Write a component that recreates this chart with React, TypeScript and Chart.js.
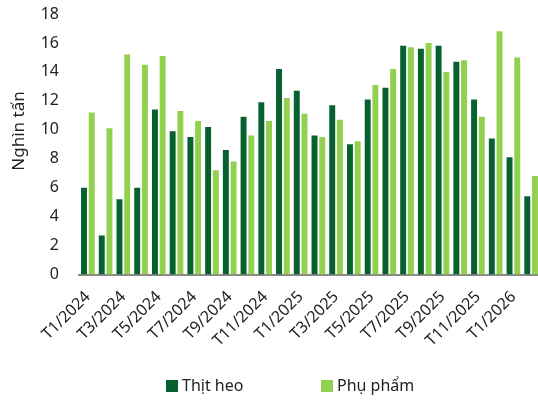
import React, { useEffect, useRef } from "react";
import { Chart, registerables } from "chart.js";

Chart.register(...registerables);

const months = [
  "T1/2024", "T2/2024", "T3/2024", "T4/2024", "T5/2024", "T6/2024", "T7/2024", "T8/2024",
  "T9/2024", "T10/2024", "T11/2024", "T12/2024", "T1/2025", "T2/2025", "T3/2025", "T4/2025",
  "T5/2025", "T6/2025", "T7/2025", "T8/2025", "T9/2025", "T10/2025", "T11/2025", "T12/2025",
  "T1/2026", "T2/2026",
];
const thitHeo = [
  6.0, 2.7, 5.2, 6.0, 11.4, 9.9, 9.5, 10.2, 8.6, 10.9, 11.9, 14.2, 12.7,
  9.6, 11.7, 9.0, 12.1, 12.9, 15.8, 15.6, 15.8, 14.7, 12.1, 9.4, 8.1, 5.4,
];
const phuPham = [
  11.2, 10.1, 15.2, 14.5, 15.1, 11.3, 10.6, 7.2, 7.8, 9.6, 10.6, 12.2, 11.1,
  9.5, 10.7, 9.2, 13.1, 14.2, 15.7, 16.0, 14.0, 14.8, 10.9, 16.8, 15.0, 6.8,
];
const yTicks = [0, 2, 4, 6, 8, 10, 12, 14, 16, 18];
const seriesNames = ["Thịt heo", "Phụ phẩm"];
const yTitle = "Nghìn tấn";
const colors = ["#07602F", "#92D050"];
const FONT = "'Noto Sans', sans-serif";

export default function App() {
  const ref = useRef<HTMLCanvasElement | null>(null);
  useEffect(() => {
    if (!ref.current) return;
    const extrasPlugin = {
      id: "extras",
      afterDraw(chart: any) {
        const ctx = chart.ctx;
        ctx.save();
        // legend
        ctx.font = `16px ${FONT}`;
        ctx.textBaseline = "middle";
        const items = [
          { x: 166, name: seriesNames[0], color: colors[0] },
          { x: 321, name: seriesNames[1], color: colors[1] },
        ];
        const y = 386;
        items.forEach((it) => {
          ctx.fillStyle = it.color;
          ctx.fillRect(it.x, y - 6, 12, 12);
          ctx.fillStyle = "#222";
          ctx.fillText(it.name, it.x + 16, y);
        });
        // y axis title
        ctx.translate(19, 131);
        ctx.rotate(-Math.PI / 2);
        ctx.font = `17px ${FONT}`;
        ctx.textAlign = "center";
        ctx.textBaseline = "middle";
        ctx.fillStyle = "#222";
        ctx.fillText(yTitle, 0, 0);
        ctx.restore();
      },
    };
    const zeroPad = (s: any) => {
      s.paddingTop = 0;
      s.paddingBottom = 0;
      s.paddingLeft = 0;
      s.paddingRight = 0;
    };
    const chart = new Chart(ref.current, {
      type: "bar",
      data: {
        labels: months,
        datasets: [
          {
            label: seriesNames[0],
            data: thitHeo,
            backgroundColor: colors[0],
            categoryPercentage: 0.87,
            barPercentage: 0.77,
          },
          {
            label: seriesNames[1],
            data: phuPham,
            backgroundColor: colors[1],
            categoryPercentage: 0.87,
            barPercentage: 0.77,
          },
        ],
      },
      options: {
        animation: false,
        responsive: false,
        maintainAspectRatio: false,
        layout: { padding: { top: 14, right: 0, bottom: 0, left: 0 } },
        plugins: { legend: { display: false }, tooltip: { enabled: false } },
        scales: {
          x: {
            afterFit: (s: any) => {
              s.height = 401 - 274.5;
              zeroPad(s);
            },
            grid: { display: false, drawTicks: false },
            border: { display: true, color: "#898989", width: 2 },
            ticks: {
              autoSkip: false,
              minRotation: 45,
              maxRotation: 45,
              padding: 13,
              color: "#222",
              font: { family: FONT, size: 16 },
              callback: (_v: any, i: number) => (i % 2 === 0 ? months[i] : ""),
            },
          },
          y: {
            min: 0,
            max: 18,
            afterFit: (s: any) => {
              s.width = 79;
              zeroPad(s);
            },
            afterBuildTicks: (s: any) => {
              s.ticks = yTicks.map((v) => ({ value: v }));
            },
            grid: { display: false, drawTicks: false },
            border: { display: false },
            ticks: {
              padding: 20,
              color: "#222",
              font: { family: FONT, size: 16 },
            },
          },
        },
      },
      plugins: [extrasPlugin],
    });
    return () => chart.destroy();
  }, []);
  return (
    <div style={{ position: "fixed", left: 0, top: 0, width: 538, height: 401, overflow: "hidden", background: "#fff" }}>
      <canvas ref={ref} width={540} height={401} style={{ display: "block" }} />
    </div>
  );
}
